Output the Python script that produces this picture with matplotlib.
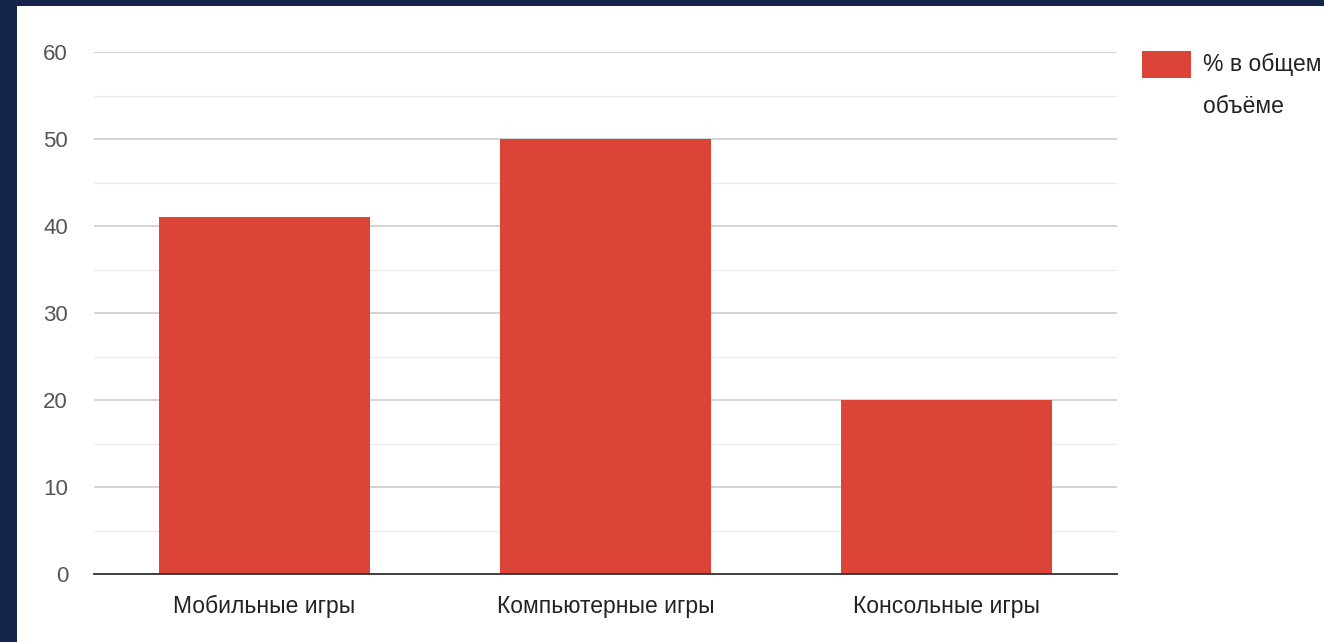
import matplotlib
matplotlib.use("Agg")
import matplotlib.pyplot as plt
from matplotlib.patches import Rectangle

categories = ["Мобильные игры", "Компьютерные игры", "Консольные игры"]
values = [41, 50, 20]
series_label = "% в общем\nобъёме"
yticks = [0, 10, 20, 30, 40, 50, 60]

W, H = 1324, 642
plt.rcParams['font.family'] = ['Liberation Sans', 'DejaVu Sans']
fig = plt.figure(figsize=(W / 100, H / 100), dpi=100)
fig.patch.set_facecolor('#14244a')
# white panel
fig.patches.append(Rectangle((17 / W, 0), 1 - 17 / W, (H - 6) / H,
                             transform=fig.transFigure, facecolor='white',
                             edgecolor='none', zorder=-5))

ax = fig.add_axes([94 / W, (H - 574) / H, (1117 - 94) / W, (574 - 52) / H])
ax.set_facecolor('none')
bar_color = '#dc4437'
x = range(len(categories))
ax.bar(x, values, width=0.62, color=bar_color, zorder=3)
ax.set_xlim(-0.5, len(categories) - 0.5)
ax.set_ylim(0, 60)
ax.set_yticks(yticks)
ax.set_yticks([5, 15, 25, 35, 45, 55], minor=True)
ax.set_xticks(list(x))
ax.set_xticklabels(categories)
ax.grid(axis='y', which='major', color='#cccccc', linewidth=1.2, zorder=0)
ax.grid(axis='y', which='minor', color='#ececec', linewidth=1.0, zorder=0)
for s in ['top', 'right', 'left']:
    ax.spines[s].set_visible(False)
ax.spines['bottom'].set_color('#333333')
ax.spines['bottom'].set_linewidth(1.3)
ax.spines['bottom'].set_zorder(4)
ax.tick_params(axis='y', which='both', length=0, pad=18.7, labelsize=16, labelcolor='#555555')
ax.tick_params(axis='x', length=0, pad=15, labelsize=16.5, labelcolor='#222222')

# legend
fig.patches.append(Rectangle((1142 / W, (H - 78) / H), 49 / W, 27 / H,
                             transform=fig.transFigure, facecolor=bar_color,
                             edgecolor='none', zorder=2))
fig.text(1203 / W, (H - 53) / H, series_label, fontsize=16.5, color='#222222',
         va='top', ha='left', linespacing=2.05)

fig.savefig("out.png", dpi=100, facecolor=fig.get_facecolor())
